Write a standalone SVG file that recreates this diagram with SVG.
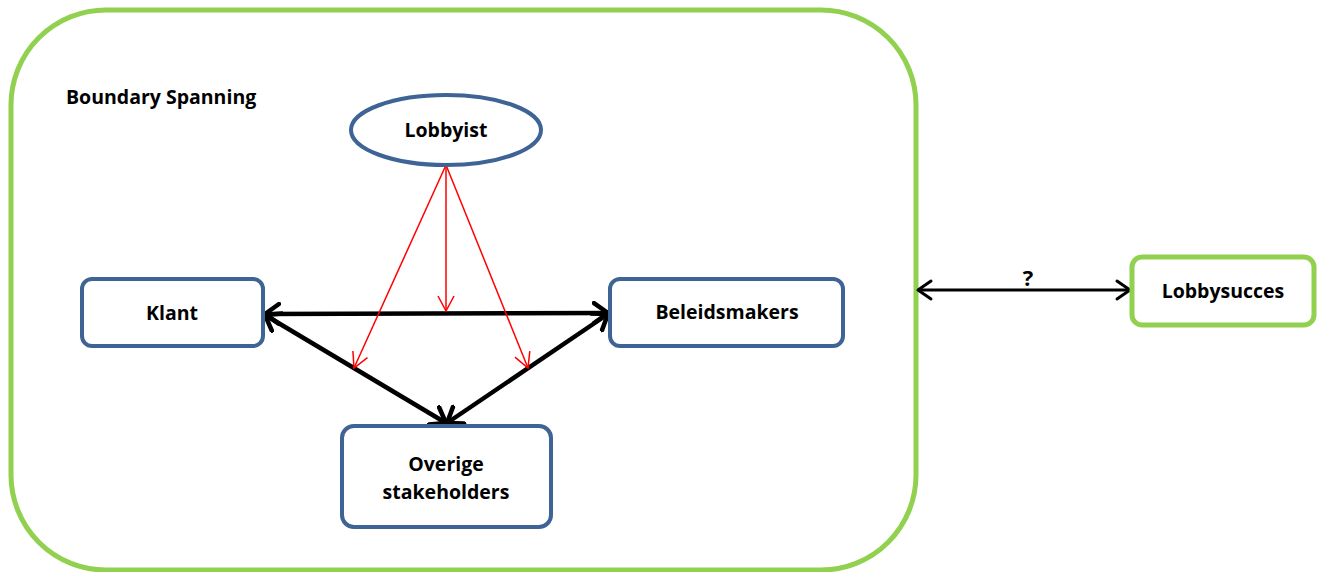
<svg xmlns="http://www.w3.org/2000/svg" width="1317" height="572" viewBox="0 0 1317 572">
<style>
.t{font-family:"Open Sans","Liberation Sans",sans-serif;font-weight:bold;font-size:19.5px;fill:#000;text-anchor:middle}
.blue{fill:#fff;stroke:#3E6395;stroke-width:4}
.green{fill:#fff;stroke:#92D050;stroke-width:5}
.blk{stroke:#000;stroke-width:4.5;fill:none}
.red{stroke:#FF0000;stroke-width:1.5;fill:none}
</style>
<defs>
<marker id="hb" markerUnits="userSpaceOnUse" viewBox="-16 -12 20 24" markerWidth="20" markerHeight="24" refX="0" refY="0" orient="auto-start-reverse">
<path d="M-14,-10 L0,0 L-14,10" fill="none" stroke="#000" stroke-width="4.5" stroke-linecap="round" stroke-linejoin="round"/>
</marker>
<marker id="hs" markerUnits="userSpaceOnUse" viewBox="-16 -12 20 24" markerWidth="20" markerHeight="24" refX="0" refY="0" orient="auto-start-reverse">
<path d="M-13,-9 L0,0 L-13,9" fill="none" stroke="#000" stroke-width="3" stroke-linecap="round" stroke-linejoin="round"/>
</marker>
<marker id="hr" markerUnits="userSpaceOnUse" viewBox="-16 -12 20 24" markerWidth="20" markerHeight="24" refX="0" refY="0" orient="auto">
<path d="M-15,-8 L0,0 L-15,8" fill="none" stroke="#FF0000" stroke-width="1.5"/>
</marker>
</defs>
<g id="boundary">
<rect x="11" y="10" width="905" height="560" rx="95" ry="95" class="green"/>
<text x="66" y="104" class="t" style="text-anchor:start">Boundary Spanning</text>
</g>
<g id="connectors">
<line x1="265" y1="314" x2="608" y2="313" class="blk" marker-start="url(#hb)" marker-end="url(#hb)"/>
<line x1="265" y1="315" x2="446" y2="423" class="blk" marker-start="url(#hb)" marker-end="url(#hb)"/>
<line x1="608" y1="314" x2="447" y2="423" class="blk" marker-start="url(#hb)" marker-end="url(#hb)"/>
<line x1="446" y1="165" x2="446" y2="311" class="red" marker-end="url(#hr)"/>
<line x1="446" y1="165" x2="354" y2="368" class="red" marker-end="url(#hr)"/>
<line x1="446" y1="165" x2="528" y2="368" class="red" marker-end="url(#hr)"/>
<line x1="918" y1="290" x2="1130" y2="290" stroke="#000" stroke-width="3" marker-start="url(#hs)" marker-end="url(#hs)"/>
<text x="1028" y="286" class="t" style="font-size:22px">?</text>
</g>
<g id="lobbyist">
<ellipse cx="446" cy="130" rx="95" ry="35" class="blue"/>
<text x="446" y="137" class="t">Lobbyist</text>
</g>
<g id="klant">
<rect x="82" y="279" width="181" height="67" rx="10" class="blue"/>
<text x="172" y="320" class="t">Klant</text>
</g>
<g id="beleidsmakers">
<rect x="610" y="279" width="233" height="67" rx="10" class="blue"/>
<text x="727" y="319" class="t">Beleidsmakers</text>
</g>
<g id="overige">
<rect x="342" y="426" width="209" height="101" rx="12" class="blue"/>
<text x="446" y="471" class="t">Overige</text>
<text x="446" y="499" class="t">stakeholders</text>
</g>
<g id="lobbysucces">
<rect x="1132" y="257" width="182" height="68" rx="10" class="green"/>
<text x="1223" y="298" class="t">Lobbysucces</text>
</g>
</svg>
